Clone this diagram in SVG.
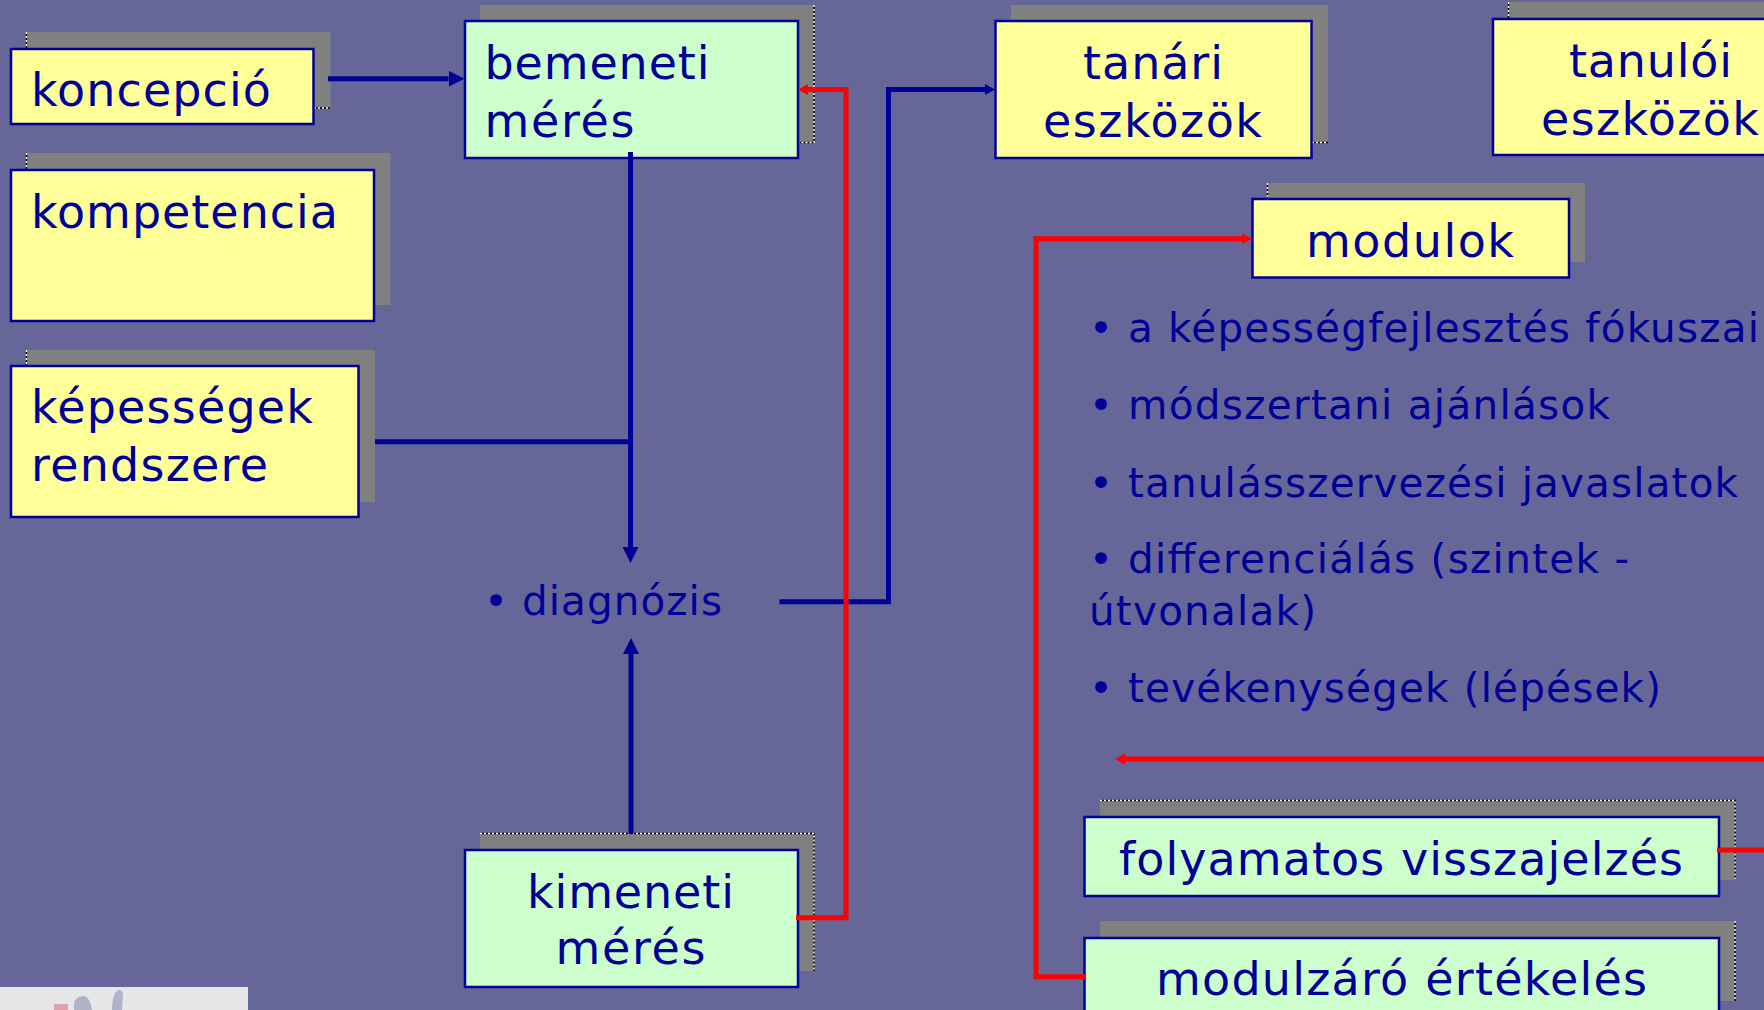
<svg xmlns="http://www.w3.org/2000/svg" width="1764" height="1010" viewBox="0 0 1764 1010">
<style>
.bg{fill:#666699}
.sh{fill:#808080}
.y{fill:#FFFF99;stroke:#000099;stroke-width:2.5}
.g{fill:#CCFFCC;stroke:#000099;stroke-width:2.5}
.d0{stroke:#000;stroke-width:1.5;fill:none}
.d1{stroke:#fff;stroke-width:1.5;stroke-dasharray:2 2;fill:none}
text{font-family:"DejaVu Sans","Liberation Sans",sans-serif;fill:#000099}
.t{font-size:46px}
.b{font-size:40.5px}
.c{fill:none;stroke-width:5;stroke-linejoin:miter}
.blue{stroke:#000099}
.red{stroke:#FF0000}
</style>
<defs>
<marker id="hb" markerUnits="userSpaceOnUse" markerWidth="16" markerHeight="16" refX="0" refY="8" orient="auto"><path d="M0 0L16 8L0 16z" fill="#000099"/></marker>
<marker id="sb" markerUnits="userSpaceOnUse" markerWidth="11" markerHeight="12" refX="0" refY="6" orient="auto"><path d="M0 .5L10 6L0 11.5z" fill="#000099"/></marker>
<marker id="sr" markerUnits="userSpaceOnUse" markerWidth="11" markerHeight="12" refX="0" refY="6" orient="auto"><path d="M0 .5L10 6L0 11.5z" fill="#FF0000"/></marker>
</defs>
<rect class="bg" width="1764" height="1010"/>
<g id="logo">
<rect x="0" y="987" width="248" height="23" fill="#E6E6E6"/>
<rect x="54" y="1004" width="14" height="6" fill="#E0A0AC"/>
<path d="M74 1010V1004Q75 996 84 996Q90 997 92 1010z" fill="#B0B4C8"/>
<path d="M112 1010Q112 994 118 990Q123 989 123 996L122 1010z" fill="#B0B4C8"/>
</g>
<g id="koncepcio">
<rect class="sh" x="26.500" y="32" width="304" height="76"/>
<path class="d0" d="M26.500 32V48M314 108H330"/><path class="d1" d="M26.500 32V48M314 108H330"/>
<rect class="y" x="11" y="49" width="302.500" height="75"/>
<text class="t" x="31" y="106" textLength="240">koncepció</text>
</g>
<g id="kompetencia">
<rect class="sh" x="26.500" y="153" width="364" height="152"/>
<path class="d0" d="M26.500 153V169"/><path class="d1" d="M26.500 153V169"/>
<rect class="y" x="11" y="170" width="363" height="151"/>
<text class="t" x="31" y="228" textLength="307">kompetencia</text>
</g>
<g id="kepessegek">
<rect class="sh" x="26.500" y="350" width="348.500" height="152"/>
<path class="d0" d="M26.500 350V365"/><path class="d1" d="M26.500 350V365"/>
<rect class="y" x="11" y="366" width="347.500" height="151"/>
<text class="t" x="31" y="423" textLength="282">képességek</text>
<text class="t" x="31" y="481" textLength="237">rendszere</text>
</g>
<g id="bemeneti">
<rect class="sh" x="480" y="5" width="334" height="138"/>
<path class="d0" d="M814 5V142.500H799"/><path class="d1" d="M814 5V142.500H799"/>
<rect class="g" x="465" y="21" width="333" height="137"/>
<text class="t" x="484.500" y="79" textLength="225">bemeneti</text>
<text class="t" x="484.500" y="137" textLength="150">mérés</text>
</g>
<g id="tanari">
<rect class="sh" x="1011" y="5" width="317" height="138"/>
<path class="d0" d="M1312 142.500H1328"/><path class="d1" d="M1312 142.500H1328"/>
<rect class="y" x="995.500" y="21" width="316" height="137"/>
<text class="t" x="1083" y="79" textLength="140">tanári</text>
<text class="t" x="1043" y="137" textLength="219">eszközök</text>
</g>
<g id="tanuloi">
<rect class="sh" x="1508.500" y="2" width="260" height="136"/>
<path class="d0" d="M1508.500 2V18"/><path class="d1" d="M1508.500 2V18"/>
<rect class="y" x="1493" y="19" width="316" height="136"/>
<text class="t" x="1569" y="77" textLength="163">tanulói</text>
<text class="t" x="1541" y="135" textLength="218">eszközök</text>
</g>
<g id="modulok">
<rect class="sh" x="1267" y="183" width="318" height="79"/>
<path class="d0" d="M1267.500 183V198"/><path class="d1" d="M1267.500 183V198"/>
<rect class="y" x="1252.500" y="199" width="316.500" height="78.500"/>
<text class="t" x="1306" y="257" textLength="208">modulok</text>
</g>
<g id="lista">
<text class="b" y="342"><tspan x="1089">•</tspan><tspan x="1128" textLength="631">a képességfejlesztés fókuszai</tspan></text>
<text class="b" y="419"><tspan x="1089">•</tspan><tspan x="1128" textLength="482">módszertani ajánlások</tspan></text>
<text class="b" y="497"><tspan x="1089">•</tspan><tspan x="1128" textLength="610">tanulásszervezési javaslatok</tspan></text>
<text class="b" y="573"><tspan x="1089">•</tspan><tspan x="1128" textLength="501">differenciálás (szintek -</tspan></text>
<text class="b" x="1089" y="625" textLength="227">útvonalak)</text>
<text class="b" y="702"><tspan x="1089">•</tspan><tspan x="1128" textLength="533">tevékenységek (lépések)</tspan></text>
</g>
<g id="diagnozis">
<text class="b" y="615"><tspan x="484">•</tspan><tspan x="522" textLength="200">diagnózis</tspan></text>
</g>
<g id="kimeneti">
<rect class="sh" x="480" y="833" width="334" height="138"/>
<path class="d0" d="M480 833.500H814V971"/><path class="d1" d="M480 833.500H814V971"/>
<rect class="g" x="465" y="850" width="333" height="137"/>
<text class="t" x="527" y="908" textLength="207">kimeneti</text>
<text class="t" x="555.500" y="964" textLength="150">mérés</text>
</g>
<g id="folyamatos">
<rect class="sh" x="1100" y="800" width="635" height="80"/>
<path class="d0" d="M1100 800.500H1735V880"/><path class="d1" d="M1100 800.500H1735V880"/>
<rect class="g" x="1084.500" y="817" width="634.500" height="79"/>
<text class="t" x="1119" y="875" textLength="564">folyamatos visszajelzés</text>
</g>
<g id="modulzaro">
<rect class="sh" x="1100" y="921" width="635" height="80"/>
<path class="d0" d="M1735 921V1001"/><path class="d1" d="M1735 921V1001"/>
<rect class="g" x="1084.500" y="938" width="634.500" height="79"/>
<text class="t" x="1156" y="995" textLength="491">modulzáró értékelés</text>
</g>
<g id="connectors">
<path class="c blue" d="M328 78.700H448.500" marker-end="url(#hb)"/>
<path class="c blue" d="M630.500 152V547" marker-end="url(#hb)"/>
<path class="c blue" d="M375 441.700H630.500"/>
<path class="c blue" d="M631 834V654" marker-end="url(#hb)"/>
<path class="c blue" d="M779.500 601.700H888.500V89.500H985" marker-end="url(#sb)"/>
<path class="c red" d="M796 917.700H846V89.500H808" marker-end="url(#sr)"/>
<path class="c red" d="M1086 976.700H1036V238.700H1242" marker-end="url(#sr)"/>
<path class="c red" d="M1764 759H1125" marker-end="url(#sr)"/>
<path class="c red" d="M1717 850H1764"/>
</g>
</svg>
